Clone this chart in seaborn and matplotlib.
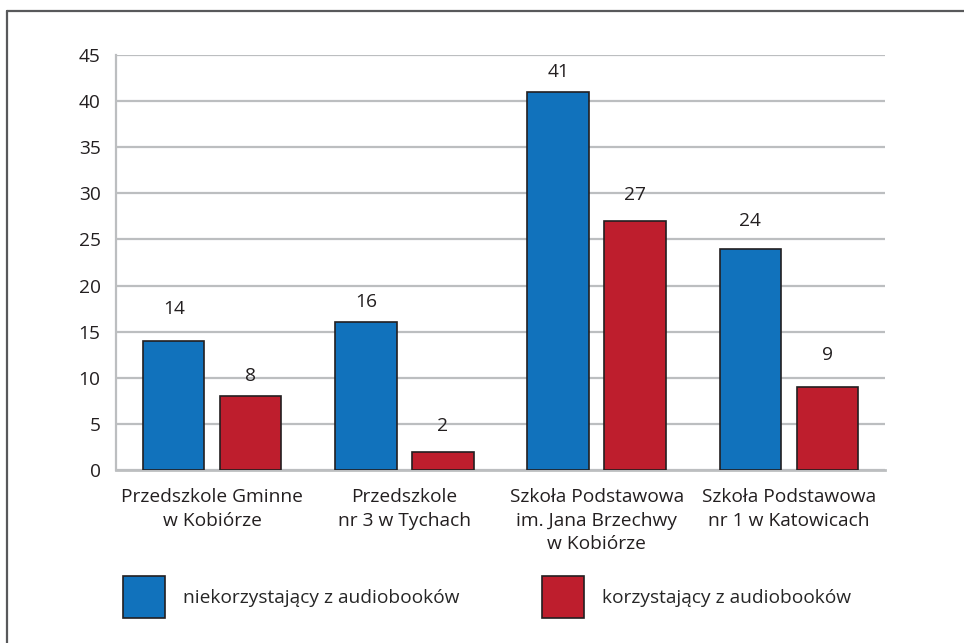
import pandas as pd
import numpy as np
import matplotlib.pyplot as plt
import seaborn as sns
from matplotlib.lines import Line2D

# data
schools = [
    "Przedszkole Gminne\nw Kobiórze",
    "Przedszkole\nnr 3 w Tychach",
    "Szkoła Podstawowa\nim. Jana Brzechwy\nw Kobiórze",
    "Szkoła Podstawowa\nnr 1 w Katowicach",
]
groups = ["niekorzystający z audiobooków", "korzystający z audiobooków"]
non_users = [14, 16, 41, 24]
users = [8, 2, 27, 9]
y_ticks = [0, 5, 10, 15, 20, 25, 30, 35, 40, 45]

data = pd.DataFrame({
    "school": schools * 2,
    "group": [groups[0]] * 4 + [groups[1]] * 4,
    "count": non_users + users,
})

sns.set_style("white")
plt.rcParams["font.family"] = ["Open Sans", "DejaVu Sans"]
fs = 13.8

grid_col = "#BCBEC0"
text_col = "#231F20"

fig = plt.figure(figsize=(9.64, 6.43), dpi=100)
ax = fig.add_axes([116 / 964, 173 / 643, 769 / 964, 415 / 643])

sns.barplot(
    data=data, x="school", y="count", hue="group",
    palette=["#1172BC", "#BE1E2D"], width=0.8, gap=0.2,
    edgecolor="#231F20", linewidth=1.2, saturation=1, ax=ax, zorder=3,
)

# label offsets above bars (points), as placed in the original
pads = [[16.5, 8.5, 8, 13.5], [8, 12, 12, 16.5]]
for c, p in zip(ax.containers, pads):
    for bar, off in zip(c.patches, p):
        ax.annotate(
            f"{bar.get_height():.0f}",
            (bar.get_x() + bar.get_width() / 2, bar.get_height()),
            xytext=(0, off), textcoords="offset points",
            ha="center", va="bottom", fontsize=fs, color=text_col,
        )

ax.set_ylim(0, 45)
ax.set_xlim(-0.5, 3.5)
ax.set_yticks(y_ticks)
ax.yaxis.grid(True, color=grid_col, linewidth=1.6, zorder=0)
ax.set_axisbelow(True)
ax.set_xlabel("")
ax.set_ylabel("")

ax.set_xticks(range(4))
ax.set_xticklabels(schools, fontsize=fs, color=text_col, linespacing=1.4)
ax.set_xticks([0.5, 1.5, 2.5, 3.5], minor=True)
ax.tick_params(axis="x", which="major", length=0, pad=13)
ax.tick_params(axis="x", which="minor", direction="in", length=7, width=1.6, color=grid_col)
ax.tick_params(axis="y", length=0, pad=11, labelsize=fs, labelcolor=text_col)

for s in ["top", "right"]:
    ax.spines[s].set_visible(False)
ax.spines["left"].set_color(grid_col)
ax.spines["left"].set_linewidth(1.6)
ax.spines["bottom"].set_color(grid_col)
ax.spines["bottom"].set_linewidth(2)

handles, labels = ax.get_legend_handles_labels()
ax.get_legend().remove()
fig.legend(
    handles, labels, loc="center left", bbox_to_anchor=(123 / 964, 46 / 643),
    ncol=2, frameon=False, fontsize=fs, handlelength=2.19, handleheight=2.99,
    handletextpad=0.93, columnspacing=4.34, borderpad=0, borderaxespad=0,
)

# outer frame: only top and left edges are drawn
frame_kw = dict(transform=fig.transFigure, color="#58595B", linewidth=1.6)
fig.lines.append(Line2D([7 / 964, 1], [632 / 643, 632 / 643], **frame_kw))
fig.lines.append(Line2D([7 / 964, 7 / 964], [0, 632 / 643], **frame_kw))

fig.savefig("out.png", dpi=100)
